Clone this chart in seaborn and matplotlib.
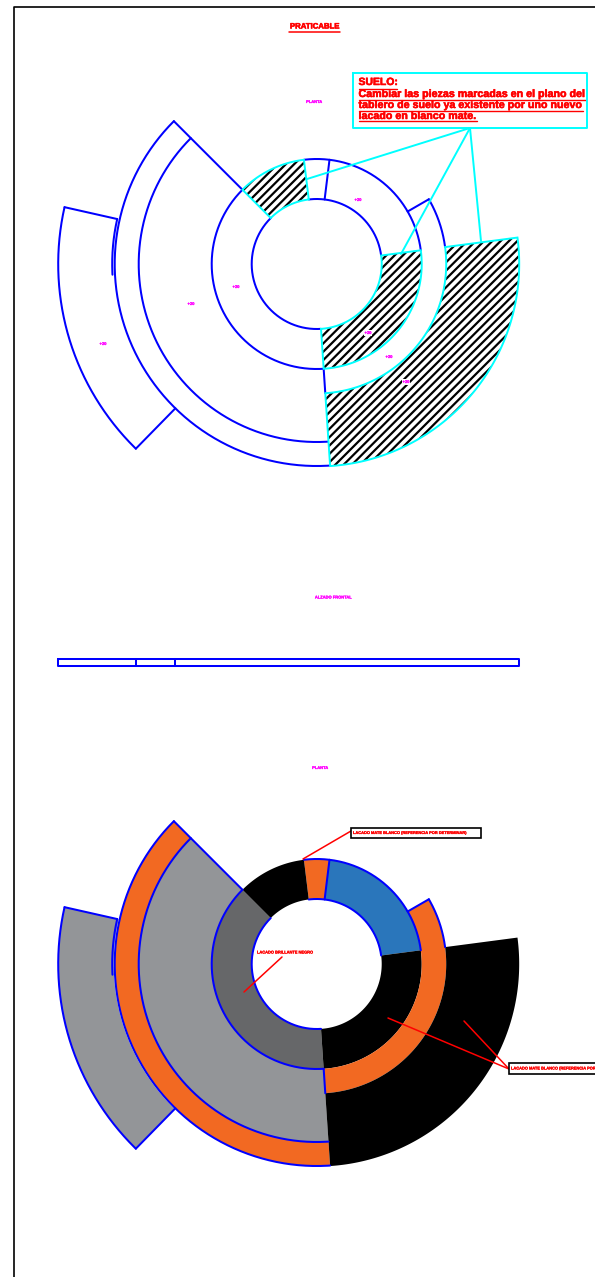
# %% ---- Requirements and constants
import numpy as np
import seaborn as sns
import matplotlib.pyplot as plt
import matplotlib.patheffects as pe

W, H = 595, 1277

# centres of the two plan views, pixels
TOP_CENTER = (316.7, 264)
LOW_CENTER = (316.7, 964)

# ring segments of the plan: radii and angles (deg, counter clockwise from east)
SEG_NAME = ['grey_in', 'blue', 'orange_small', 'hatch_top', 'hatch_in',
            'grey_mid', 'orange_big', 'orange_right', 'hatch_big', 'grey_out']
SEG_R_IN = [65, 65, 65, 65, 65, 105, 178, 105, 129.5, 203]
SEG_R_OUT = [105, 105, 105, 105, 105, 178, 202, 129.5, 202.5, 258.5]
SEG_START = [135, 7.5, 83, 97, -86.2, 135, 135, -86.2, -86.2, 167.3]
SEG_END = [273.8, 83, 97, 135, 7.5, 273.8, 273.8, 30, 7.5, 225.6]
SEG_FILL = ['#666769', '#2A76BB', '#F26922', '#000000', '#000000',
            '#939598', '#F26922', '#F26922', '#000000', '#939598']
HATCHED = ['hatch_top', 'hatch_in', 'hatch_big']

# blue arcs: radius, start, end
ARC_R = [65, 65, 105, 105, 178, 202, 258.5, 204.5, 129.5]
ARC_START = [135, 7.5, 135, 7.5, 135, 135, 167.3, 167.3, 7.5]
ARC_END = [273.8, 97, 273.8, 97, 273.8, 273.8, 225.6, 183, 30]

# blue radial edges: angle, inner radius, outer radius
RAD_ANGLE = [135, 83, 30, -86.2, 167.3, 225.6]
RAD_IN = [105, 65, 105, 105, 204.5, 202]
RAD_OUT = [202, 105, 129.5, 129.5, 258.5, 258.5]

# front elevation
FRONT_X = [58, 136, 175, 519]
FRONT_Y = [659, 666]

# callouts
SUELO_BOX = [353, 73, 587, 128]
SUELO_FROM = (470, 128)
SUELO_TO_X = [307, 401, 481]
SUELO_TO_Y = [179, 254, 241]
SUELO_LINES = ['SUELO:',
               'Cambiar las piezas marcadas en el plano del',
               'tablero de suelo ya existente por uno nuevo',
               'lacado en blanco mate.']
SUELO_LINE_Y = [82, 94, 105, 116]
SUELO_UNDER_Y = [89, 99.5, 110.5, 121]
SUELO_UNDER_END = [397, 586, 583, 477]

RED_LEADERS = [((351, 831), (303, 859)),
               ((282, 957), (244, 992)),
               ((509, 1069), (388, 1018)),
               ((509, 1069), (464, 1021))]
REF_BOXES = [(351, 828, 481, 838), (509, 1063, 640, 1074)]
RED_LABELS = [('LACADO MATE BLANCO (REFERENCIA POR DETERMINAR)', 353, 833),
              ('LACADO MATE BLANCO (REFERENCIA POR DETERMINAR)', 511, 1068.5),
              ('LACADO BRILLANTE NEGRO', 257, 952.5)]

MAGENTA_X = [314, 358, 236, 191, 103, 389, 368, 406, 333, 320]
MAGENTA_Y = [102, 200, 287, 304, 344, 357, 333, 382, 597.5, 768]
MAGENTA_TEXT = ['PLANTA', '+20', '+20', '+20', '+20', '+20', '+20', '+20',
                'ALZADO FRONTAL', 'PLANTA']
MAGENTA_WHITE = [False, False, False, False, False, False, True, True, False, False]

BLUE = '#0000FF'
CYAN = '#00FFFF'
RED = '#FF0000'
LW = 1.45


# %% ---- Function and class
def ring_xy(center, r_in, r_out, start, end):
    t = np.radians(np.linspace(start, end, 160))
    xs = np.r_[r_out * np.cos(t), r_in * np.cos(t[::-1])]
    ys = np.r_[r_out * np.sin(t), r_in * np.sin(t[::-1])]
    return center[0] + xs, center[1] - ys


def path(ax, x, y, color, lw=LW, zorder=2):
    sns.lineplot(x=np.asarray(x, float), y=np.asarray(y, float), sort=False,
                 estimator=None, color=color, linewidth=lw, ax=ax, legend=False,
                 zorder=zorder)


def draw_edges(ax, center):
    for r, a0, a1 in zip(ARC_R, ARC_START, ARC_END):
        t = np.radians(np.linspace(a0, a1, 200))
        path(ax, center[0] + r * np.cos(t), center[1] - r * np.sin(t), BLUE)
    for a, r0, r1 in zip(RAD_ANGLE, RAD_IN, RAD_OUT):
        t = np.radians(a)
        path(ax, [center[0] + r0 * np.cos(t), center[0] + r1 * np.cos(t)],
             [center[1] - r0 * np.sin(t), center[1] - r1 * np.sin(t)], BLUE)


def bold_text(ax, x, y, s, size, color=RED, ha='left', stroke=0.4, **kw):
    return ax.text(x, y, s, fontsize=size, color=color, ha=ha, va='center',
                   fontweight='bold', family='Liberation Sans',
                   path_effects=[pe.withStroke(linewidth=stroke, foreground=color)], **kw)


# %% ---- Play ground
sns.set_theme(style='white')
plt.rcParams['hatch.linewidth'] = 1.6
plt.rcParams['font.family'] = ['Liberation Sans', 'DejaVu Sans']

fig = plt.figure(figsize=(W / 100, H / 100), dpi=100)
ax = fig.add_axes([0, 0, 1, 1])

# sheet frame
path(ax, [14, 14, 700], [1400, 7, 7], 'black', 1.2)

# upper plan, hatched pieces on top of the blue outline
draw_edges(ax, TOP_CENTER)
for name, r0, r1, a0, a1 in zip(SEG_NAME, SEG_R_IN, SEG_R_OUT, SEG_START, SEG_END):
    if name in HATCHED:
        x, y = ring_xy(TOP_CENTER, r0, r1, a0, a1)
        ax.fill(x, y, facecolor='white', edgecolor='black', hatch='////', linewidth=0, zorder=3)
        ax.fill(x, y, facecolor='none', edgecolor=CYAN, linewidth=1.4, zorder=4)

# front elevation
path(ax, [FRONT_X[0], FRONT_X[-1], FRONT_X[-1], FRONT_X[0], FRONT_X[0]],
     [FRONT_Y[0], FRONT_Y[0], FRONT_Y[1], FRONT_Y[1], FRONT_Y[0]], BLUE)
for fx in FRONT_X[1:-1]:
    path(ax, [fx, fx], FRONT_Y, BLUE)

# lower plan, painted
for name, r0, r1, a0, a1, c in zip(SEG_NAME, SEG_R_IN, SEG_R_OUT, SEG_START, SEG_END, SEG_FILL):
    x, y = ring_xy(LOW_CENTER, r0, r1, a0, a1)
    order = 1.5 if name != 'grey_out' else 1.2
    ax.fill(x, y, facecolor=c, edgecolor='none', linewidth=0, zorder=order)
draw_edges(ax, LOW_CENTER)

# callout SUELO
bx0, by0, bx1, by1 = SUELO_BOX
path(ax, [bx0, bx1, bx1, bx0, bx0], [by0, by0, by1, by1, by0], CYAN, 1.4, zorder=5)
for tx, ty in zip(SUELO_TO_X, SUELO_TO_Y):
    path(ax, [SUELO_FROM[0], tx], [SUELO_FROM[1], ty], CYAN, 1.4, zorder=5)
for s, ty, uy, ux in zip(SUELO_LINES, SUELO_LINE_Y, SUELO_UNDER_Y, SUELO_UNDER_END):
    bold_text(ax, 358.5, ty, s, 7.7 if s != 'SUELO:' else 7.5)
    path(ax, [358.5, ux], [uy, uy], RED, 1.0)

# title
bold_text(ax, 314.5, 27, 'PRATICABLE', 5.6, ha='center')
path(ax, [289, 340], [31.5, 31.5], RED, 1.1)

# painted plan callouts
for (p0, p1) in RED_LEADERS:
    path(ax, [p0[0], p1[0]], [p0[1], p1[1]], RED, 1.1, zorder=3)
for x0, y0, x1, y1 in REF_BOXES:
    ax.fill([x0, x1, x1, x0], [y0, y0, y1, y1], facecolor='white', edgecolor='black',
            linewidth=1.2, zorder=6)
for s, tx, ty in RED_LABELS:
    bold_text(ax, tx, ty, s, 2.85, stroke=0.2, zorder=7)

# level and view marks
for tx, ty, s, bg in zip(MAGENTA_X, MAGENTA_Y, MAGENTA_TEXT, MAGENTA_WHITE):
    kw = {'bbox': dict(facecolor='white', edgecolor='none', pad=0.4)} if bg else {}
    bold_text(ax, tx, ty, s, 2.9, color='#FF00FF', ha='center', stroke=0.2, zorder=8, **kw)

ax.set_xlim(0, W)
ax.set_ylim(H, 0)
ax.axis('off')
fig.savefig('out.png', dpi=100)
